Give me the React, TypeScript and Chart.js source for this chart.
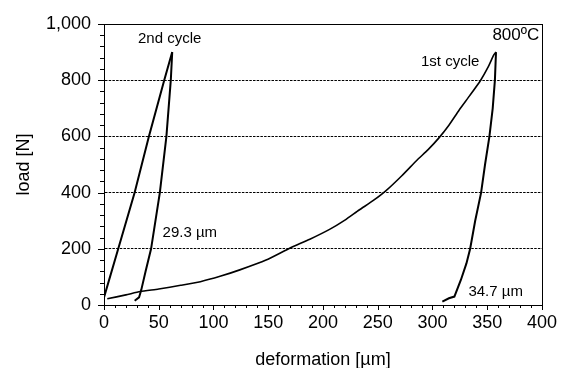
import React, { useEffect, useRef } from "react";
import { Chart, registerables } from "chart.js";

Chart.register(...registerables);

// 1st cycle loading (deformation µm, load N)
const cycle1LoadX = [3, 20, 33, 50, 70, 88, 106, 124, 148, 169.5, 188, 206, 220, 233, 246, 257.6, 272, 286, 296, 305.5, 315, 324.4, 334, 344, 351, 356, 358];
const cycle1LoadY = [22, 36, 48, 57, 70, 83, 102, 125, 160, 202, 234, 269, 302, 338, 372, 407, 460, 516, 553, 593, 640, 694, 745, 800, 848, 890, 900];
// 1st cycle unloading
const cycle1UnloadX = [358, 357, 355, 352, 348, 344.4, 339, 334.4, 331, 326, 320, 315, 309];
const cycle1UnloadY = [900, 800, 700, 600, 500, 400, 300, 200, 148, 90, 30, 24, 12];
// 2nd cycle loading
const cycle2LoadX = [0, 13, 28, 41, 55, 62.3];
const cycle2LoadY = [27, 200, 400, 600, 800, 900];
// 2nd cycle unloading
const cycle2UnloadX = [62.3, 61, 57, 51, 43, 38, 34, 32, 28];
const cycle2UnloadY = [900, 800, 600, 400, 200, 120, 53, 27, 15];

// annotations: text, x, y (baseline), font size
const annotationTexts = ["2nd cycle", "800ºC", "1st cycle", "29.3 µm", "34.7 µm"];
const annotationX = [31, 354.7, 289.5, 53.5, 332.8];
const annotationY = [931, 943, 850, 241, 32];
const annotationSize = [15, 17, 15, 15, 15];

const xTitle = "deformation [µm]";
const yTitle = "load [N]";

const FONT = '"Liberation Sans", Arial, sans-serif';

const toPts = (xs: number[], ys: number[]) => xs.map((x, i) => ({ x, y: ys[i] }));

export default function App() {
  const ref = useRef<HTMLCanvasElement | null>(null);

  useEffect(() => {
    document.body.style.margin = "0";
    const canvas = ref.current;
    if (!canvas) return;

    const decor = {
      id: "decor",
      afterDraw(chart: any) {
        const { ctx, chartArea: a, scales } = chart;
        const xs = scales.x;
        const ys = scales.y;
        ctx.save();
        ctx.setLineDash([]);
        ctx.strokeStyle = "#000";
        ctx.lineWidth = 1;
        // box
        ctx.strokeRect(Math.round(a.left) + 0.5, Math.round(a.top) + 0.5, Math.round(a.right - a.left), Math.round(a.bottom - a.top));
        // tick marks
        ctx.beginPath();
        for (let v = 0; v <= 400; v += 10) {
          const px = Math.round(xs.getPixelForValue(v)) + 0.5;
          const len = v % 50 === 0 ? 5 : 3;
          ctx.moveTo(px, a.bottom);
          ctx.lineTo(px, a.bottom + len);
        }
        for (let v = 0; v <= 1000; v += 40) {
          const py = Math.round(ys.getPixelForValue(v)) + 0.5;
          const len = v % 200 === 0 ? 6 : 4;
          ctx.moveTo(a.left, py);
          ctx.lineTo(a.left - len, py);
        }
        ctx.stroke();
        // titles
        ctx.fillStyle = "#000";
        ctx.font = `18px ${FONT}`;
        ctx.textAlign = "center";
        ctx.textBaseline = "alphabetic";
        ctx.fillText(xTitle, (a.left + a.right) / 2, 365);
        ctx.save();
        ctx.translate(28.5, (a.top + a.bottom) / 2);
        ctx.rotate(-Math.PI / 2);
        ctx.fillText(yTitle, 0, 0);
        ctx.restore();
        // annotations
        ctx.textAlign = "left";
        annotationTexts.forEach((t, i) => {
          ctx.font = `${annotationSize[i]}px ${FONT}`;
          ctx.fillText(t, xs.getPixelForValue(annotationX[i]), ys.getPixelForValue(annotationY[i]));
        });
        ctx.restore();
      },
    };

    const lineDs = (xs: number[], ys: number[], w: number, tension = 0) => ({
      data: toPts(xs, ys),
      showLine: true,
      borderColor: "#000",
      backgroundColor: "#000",
      borderWidth: w,
      pointRadius: 0,
      tension,
      fill: false,
    });

    const chart = new Chart(canvas, {
      type: "scatter",
      data: {
        datasets: [
          lineDs(cycle1LoadX, cycle1LoadY, 1.6, 0.2),
          lineDs(cycle1UnloadX, cycle1UnloadY, 2),
          lineDs(cycle2LoadX, cycle2LoadY, 2),
          lineDs(cycle2UnloadX, cycle2UnloadY, 2),
        ],
      },
      options: {
        animation: false,
        responsive: true,
        maintainAspectRatio: false,
        layout: { padding: { top: 24, right: 21, left: 0, bottom: 0 } },
        plugins: { legend: { display: false }, tooltip: { enabled: false } },
        scales: {
          x: {
            type: "linear",
            min: 0,
            max: 400,
            afterFit: (s: any) => {
              s.height = 63;
            },
            ticks: {
              stepSize: 50,
              color: "#000",
              font: { family: FONT, size: 18 },
              padding: 7,
              maxRotation: 0,
              autoSkip: false,
            },
            grid: { drawOnChartArea: false, drawTicks: false },
            border: { display: true, color: "#000", width: 1 },
          },
          y: {
            type: "linear",
            min: 0,
            max: 1000,
            afterFit: (s: any) => {
              s.width = 104;
            },
            ticks: {
              stepSize: 200,
              color: "#000",
              font: { family: FONT, size: 18 },
              padding: 13,
              callback: (v: any) => Number(v).toLocaleString("en-US"),
            },
            grid: {
              drawTicks: false,
              color: (c: any) => (c.tick && c.tick.value > 0 && c.tick.value < 1000 ? "#000" : "rgba(0,0,0,0)"),
              lineWidth: 1,
            },
            border: { display: true, color: "#000", width: 1, dash: [2.5, 1.2] },
          },
        },
      },
      plugins: [decor],
    } as any);

    return () => chart.destroy();
  }, []);

  return (
    <div style={{ position: "fixed", left: 0, top: 0, width: 564, height: 368 }}>
      <canvas ref={ref} />
    </div>
  );
}
